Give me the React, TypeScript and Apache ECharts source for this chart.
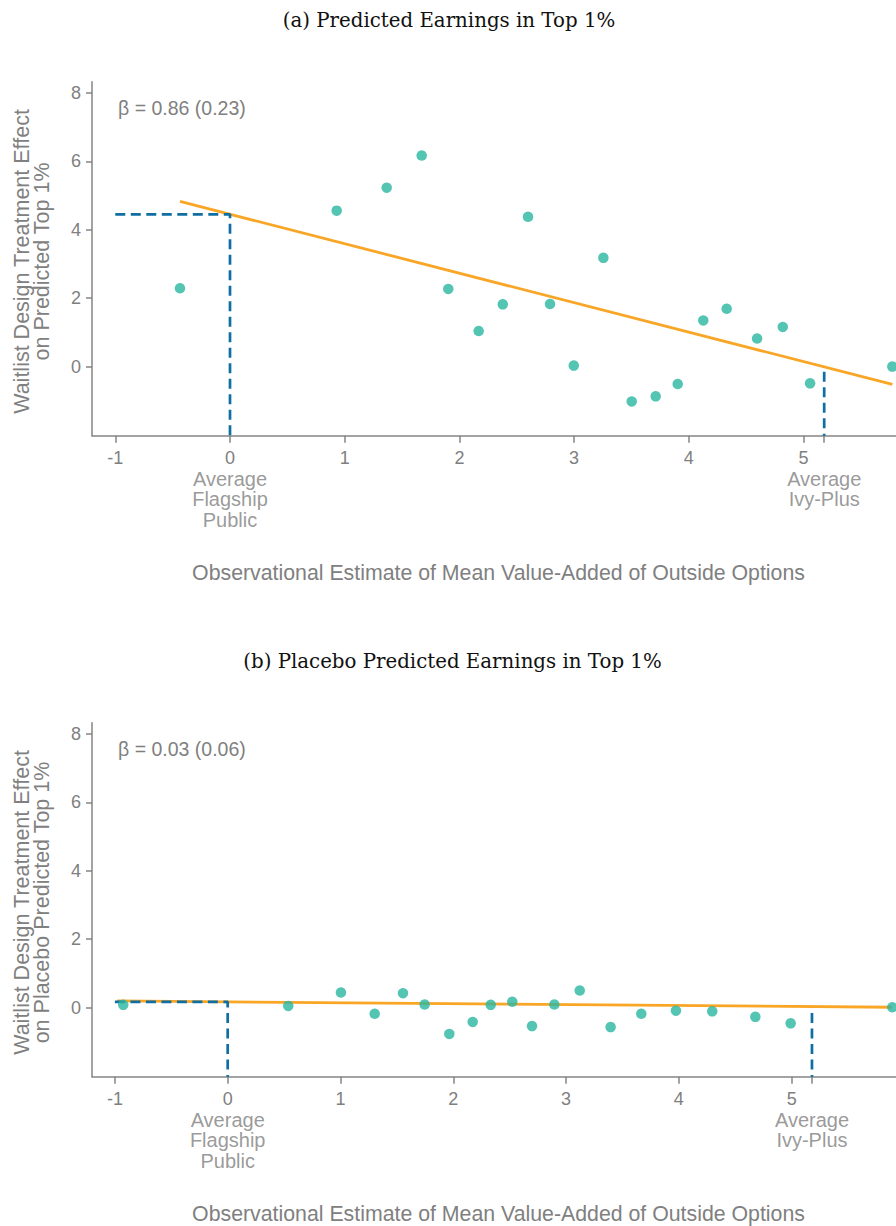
import React, { useEffect, useRef } from "react";
import * as echarts from "echarts";

// ---------- data ----------
const xTickLabels = [-1, 0, 1, 2, 3, 4, 5];
const xTickMarks = [-1, 0, 1, 2, 3, 4, 5, 5.18];
const yTickLabels = [0, 2, 4, 6, 8];
const flagshipX = 0;
const ivyPlusX = 5.18;
const refLabels = ["Average\nFlagship\nPublic", "Average\nIvy-Plus"];

const titleA = "(a) Predicted Earnings in Top 1%";
const titleB = "(b) Placebo Predicted Earnings in Top 1%";
const yTitleA = "Waitlist Design Treatment Effect\non Predicted Top 1%";
const yTitleB = "Waitlist Design Treatment Effect\non Placebo Predicted Top 1%";
const xTitle = "Observational Estimate of Mean Value-Added of Outside Options";
const betaA = "β = 0.86 (0.23)";
const betaB = "β = 0.03 (0.06)";

const pointsA: [number, number][] = [
  [-0.436, 2.29], [0.93, 4.56], [1.366, 5.23], [1.671, 6.17], [1.903, 2.27],
  [2.168, 1.04], [2.378, 1.82], [2.598, 4.38], [2.79, 1.83], [2.997, 0.03],
  [3.255, 3.18], [3.502, -1.02], [3.711, -0.87], [3.903, -0.51], [4.126, 1.35],
  [4.33, 1.69], [4.595, 0.82], [4.819, 1.16], [5.057, -0.49], [5.774, 0.0],
];
const fitA: [number, number][] = [[-0.436, 4.83], [5.774, -0.52]];
const flagshipYA = 4.45;
const ivyStartA = -0.15;

const pointsB: [number, number][] = [
  [-0.926, 0.08], [0.537, 0.05], [1.004, 0.44], [1.303, -0.18], [1.554, 0.42],
  [1.746, 0.09], [1.965, -0.77], [2.172, -0.42], [2.332, 0.08], [2.523, 0.17],
  [2.698, -0.54], [2.896, 0.09], [3.121, 0.5], [3.395, -0.57], [3.667, -0.18],
  [3.974, -0.09], [4.296, -0.11], [4.678, -0.27], [4.991, -0.46], [5.892, 0.01],
];
const fitB: [number, number][] = [[-0.98, 0.196], [5.89, 0.01]];
const flagshipYB = 0.17;
const ivyStartB = -0.155;

const yMin = -2.02;
const yMax = 8.33;

// ---------- styles ----------
const GRAY = "#808080";
const AXIS = "#858585";
const TEAL = "#29b5a0";
const ORANGE = "#f9a626";
const BLUE = "#0f6fa3";
const SANS = "'Liberation Sans', Arial, Helvetica, sans-serif";
const SERIF = "'DejaVu Serif', 'Liberation Serif', serif";
const DASH = [10, 5.5];

function panel(i: number, p: {
  top: number; xMin: number; xMax: number;
  points: [number, number][]; fit: [number, number][];
  flagY: number; ivyStart: number;
}) {
  const grid = {
    left: 92, top: p.top, width: 804, height: 354,
    containLabel: false, outerBoundsMode: "none",
  };
  const xAxis = {
    type: "value", gridIndex: i, min: p.xMin, max: p.xMax,
    splitLine: { show: false },
    axisLine: { show: true, onZero: false, lineStyle: { color: AXIS, width: 1.5 } },
    axisTick: { show: true, customValues: xTickMarks, length: 7, lineStyle: { color: AXIS, width: 1.5 } },
    axisLabel: {
      show: true, customValues: xTickLabels, margin: 13,
      color: GRAY, fontSize: 18, fontFamily: SANS,
      formatter: (v: number) => String(v),
    },
  };
  const yAxis = {
    type: "value", gridIndex: i, min: yMin, max: yMax,
    splitLine: { show: false },
    axisLine: { show: true, onZero: false, lineStyle: { color: AXIS, width: 1.5 } },
    axisTick: { show: true, customValues: yTickLabels, length: 6, lineStyle: { color: AXIS, width: 1.5 } },
    axisLabel: {
      show: true, customValues: yTickLabels, margin: 11,
      color: GRAY, fontSize: 18, fontFamily: SANS,
    },
  };
  const series = [
    {
      type: "line", xAxisIndex: i, yAxisIndex: i, data: p.fit,
      symbol: "none", lineStyle: { color: ORANGE, width: 2.8 }, z: 2, silent: true,
    },
    {
      type: "line", xAxisIndex: i, yAxisIndex: i,
      data: [[-1, p.flagY], [flagshipX, p.flagY], [flagshipX, yMin]],
      symbol: "none", lineStyle: { color: BLUE, width: 2.7, type: DASH }, z: 3, silent: true,
    },
    {
      type: "line", xAxisIndex: i, yAxisIndex: i,
      data: [[ivyPlusX, p.ivyStart], [ivyPlusX, yMin]],
      symbol: "none", lineStyle: { color: BLUE, width: 2.7, type: DASH }, z: 3, silent: true,
    },
    {
      type: "scatter", xAxisIndex: i, yAxisIndex: i, data: p.points,
      symbolSize: 10.5, itemStyle: { color: TEAL }, z: 4, clip: false, silent: true,
    },
    {
      type: "scatter", xAxisIndex: i, yAxisIndex: i,
      data: [[flagshipX, yMin], [ivyPlusX, yMin]],
      symbolSize: 1, itemStyle: { color: "rgba(0,0,0,0)" }, clip: false, silent: true,
      label: {
        show: true, position: "bottom", distance: 32,
        formatter: (pr: any) => refLabels[pr.dataIndex],
        color: GRAY, fontSize: 20, lineHeight: 20.7, fontFamily: SANS, align: "center",
      },
    },
  ];
  return { grid, xAxis, yAxis, series };
}

export default function App() {
  const ref = useRef<HTMLDivElement>(null);
  useEffect(() => {
    document.body.style.margin = "0";
    if (!ref.current) return;
    const chart = echarts.init(ref.current, undefined, { renderer: "svg" });
    const a = panel(0, {
      top: 81.7, xMin: -1.203, xMax: 5.806, points: pointsA, fit: fitA,
      flagY: flagshipYA, ivyStart: ivyStartA,
    });
    const b = panel(1, {
      top: 722.7, xMin: -1.203, xMax: 5.925, points: pointsB, fit: fitB,
      flagY: flagshipYB, ivyStart: ivyStartB,
    });
    const txt = (text: string, x: number, y: number, size: number, font: string, color: string) => ({
      type: "text", x, y, silent: true,
      style: { text, fill: color, fontSize: size, fontFamily: font, align: "center", verticalAlign: "middle" },
    });
    const graphic = [
      txt(titleA, 449, 20, 19.8, SERIF, "#111"),
      txt(titleB, 452.5, 661, 19.8, SERIF, "#111"),
      txt(xTitle, 498.5, 573, 21.3, SANS, GRAY),
      txt(xTitle, 498.5, 1214, 21.3, SANS, GRAY),
      { type: "text", x: 118, y: 108, silent: true, style: { text: betaA, fill: GRAY, fontSize: 19.5, fontFamily: SANS, align: "left", verticalAlign: "middle" } },
      { type: "text", x: 118, y: 749, silent: true, style: { text: betaB, fill: GRAY, fontSize: 19.5, fontFamily: SANS, align: "left", verticalAlign: "middle" } },
      { type: "text", x: 31.7, y: 261.5, rotation: Math.PI / 2, silent: true, style: { text: yTitleA, fill: GRAY, fontSize: 21.5, lineHeight: 20, fontFamily: SANS, align: "center", verticalAlign: "middle" } },
      { type: "text", x: 31.7, y: 902.5, rotation: Math.PI / 2, silent: true, style: { text: yTitleB, fill: GRAY, fontSize: 21.5, lineHeight: 20, fontFamily: SANS, align: "center", verticalAlign: "middle" } },
    ];
    chart.setOption({
      animation: false,
      backgroundColor: "#ffffff",
      grid: [a.grid, b.grid],
      xAxis: [a.xAxis, b.xAxis],
      yAxis: [a.yAxis, b.yAxis],
      series: [...a.series, ...b.series],
      graphic,
    } as any);
    return () => chart.dispose();
  }, []);
  return <div ref={ref} style={{ width: 896, height: 1226 }} />;
}
